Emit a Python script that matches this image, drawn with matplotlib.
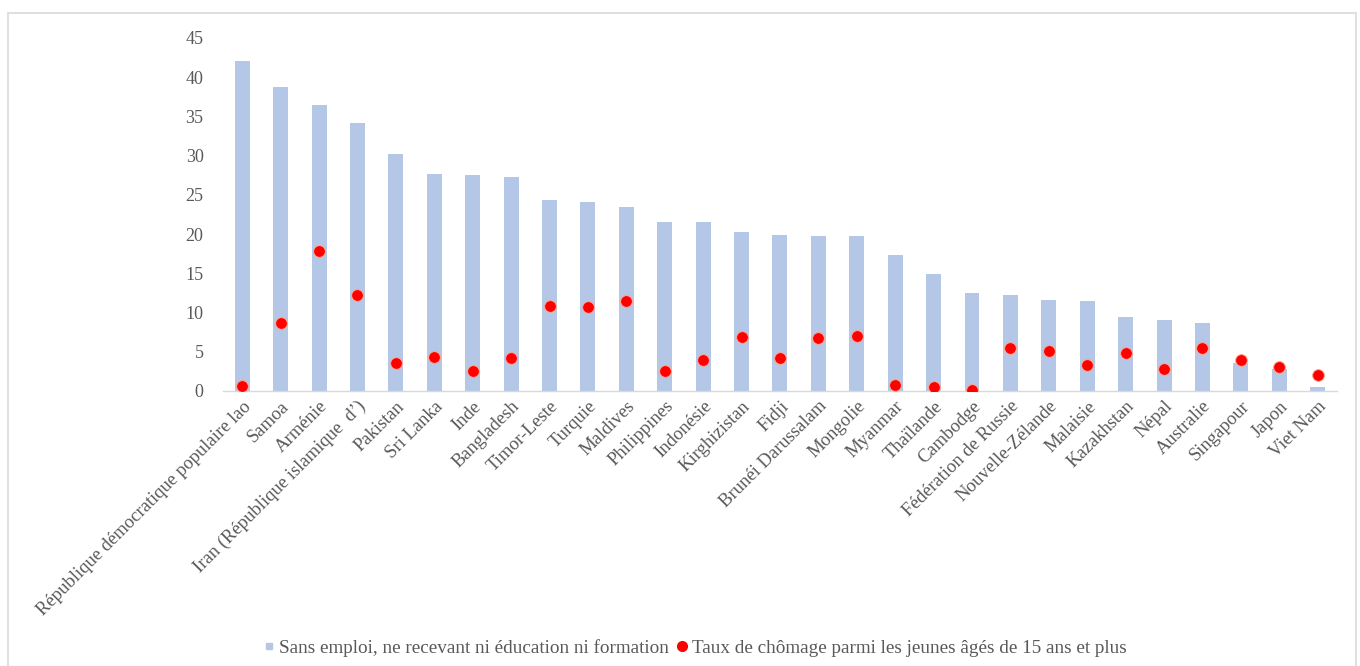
import matplotlib
matplotlib.use("Agg")
import matplotlib.pyplot as plt
from matplotlib.lines import Line2D
from matplotlib.patches import Rectangle

pays = [
    "République démocratique populaire lao", "Samoa", "Arménie",
    "Iran (République islamique  d’)", "Pakistan", "Sri Lanka", "Inde",
    "Bangladesh", "Timor-Leste", "Turquie", "Maldives", "Philippines",
    "Indonésie", "Kirghizistan", "Fidji", "Brunéi Darussalam", "Mongolie",
    "Myanmar", "Thaïlande", "Cambodge", "Fédération de Russie",
    "Nouvelle-Zélande", "Malaisie", "Kazakhstan", "Népal", "Australie",
    "Singapour", "Japon", "Viet Nam",
]
neet = [42.1, 38.8, 36.5, 34.2, 30.2, 27.7, 27.5, 27.3, 24.3, 24.1, 23.5,
        21.6, 21.5, 20.2, 19.9, 19.8, 19.7, 17.3, 14.9, 12.5, 12.2, 11.6,
        11.5, 9.4, 9.0, 8.6, 3.6, 2.8, 0.5]
chomage = [0.6, 8.6, 17.9, 12.2, 3.5, 4.3, 2.6, 4.2, 10.8, 10.7, 11.5, 2.6,
           4.0, 6.9, 4.2, 6.8, 7.0, 0.7, 0.5, 0.1, 5.5, 5.1, 3.3, 4.9, 2.8,
           5.5, 3.9, 3.0, 2.0]
y_ticks = [0, 5, 10, 15, 20, 25, 30, 35, 40, 45]

label_neet = "Sans emploi, ne recevant ni éducation ni formation"
label_chom = "Taux de chômage parmi les jeunes âgés de 15 ans et plus"

plt.rcParams["font.family"] = ["Liberation Serif", "DejaVu Serif"]
text_col = "#595959"
bar_col = "#b4c7e7"
dot_col = "#ff0000"

fig = plt.figure(figsize=(13.6, 6.66), dpi=100)
ax = fig.add_axes([0.164, 0.413, 0.819, 0.530])

x = list(range(len(pays)))
ax.bar(x, neet, width=0.39, color=bar_col, zorder=2)
ax.scatter(x, chomage, s=72, color=dot_col, zorder=3,
           edgecolors="#ffa890", linewidths=0.7)

ax.set_xlim(-0.5, len(pays) - 0.5)
ax.set_ylim(0, 45)
ax.set_yticks(y_ticks)
ax.set_yticklabels([str(v) for v in y_ticks], fontsize=13, color=text_col)
ax.tick_params(axis="y", length=0, pad=14)
ax.set_xticks(x)
ax.set_xticklabels(pays, rotation=45, ha="right", rotation_mode="anchor",
                   fontsize=13.4, color=text_col)
ax.tick_params(axis="x", length=0, pad=5)

for side in ("top", "right", "left"):
    ax.spines[side].set_visible(False)
ax.spines["bottom"].set_color("#d9d9d9")
ax.spines["bottom"].set_linewidth(1.0)

handles = [
    Line2D([], [], marker="s", linestyle="none", markersize=5,
           color=bar_col, label=label_neet),
    Line2D([], [], marker="o", linestyle="none", markersize=7,
           color=dot_col, label=label_chom),
]
leg = fig.legend(handles=handles, loc="center", bbox_to_anchor=(0.511, 0.027),
                 ncol=2, frameon=False, fontsize=13.8, handlelength=0.6,
                 handletextpad=0.2, columnspacing=0.4, labelcolor=text_col)

# outer chart frame
fig.patches.append(Rectangle((8 / 1360, -0.02), 1348 / 1360, 1 - 13 / 666 + 0.02,
                             transform=fig.transFigure, fill=False,
                             edgecolor="#d9d9d9", linewidth=1.2))

fig.savefig("out.png", dpi=100, facecolor="white")
